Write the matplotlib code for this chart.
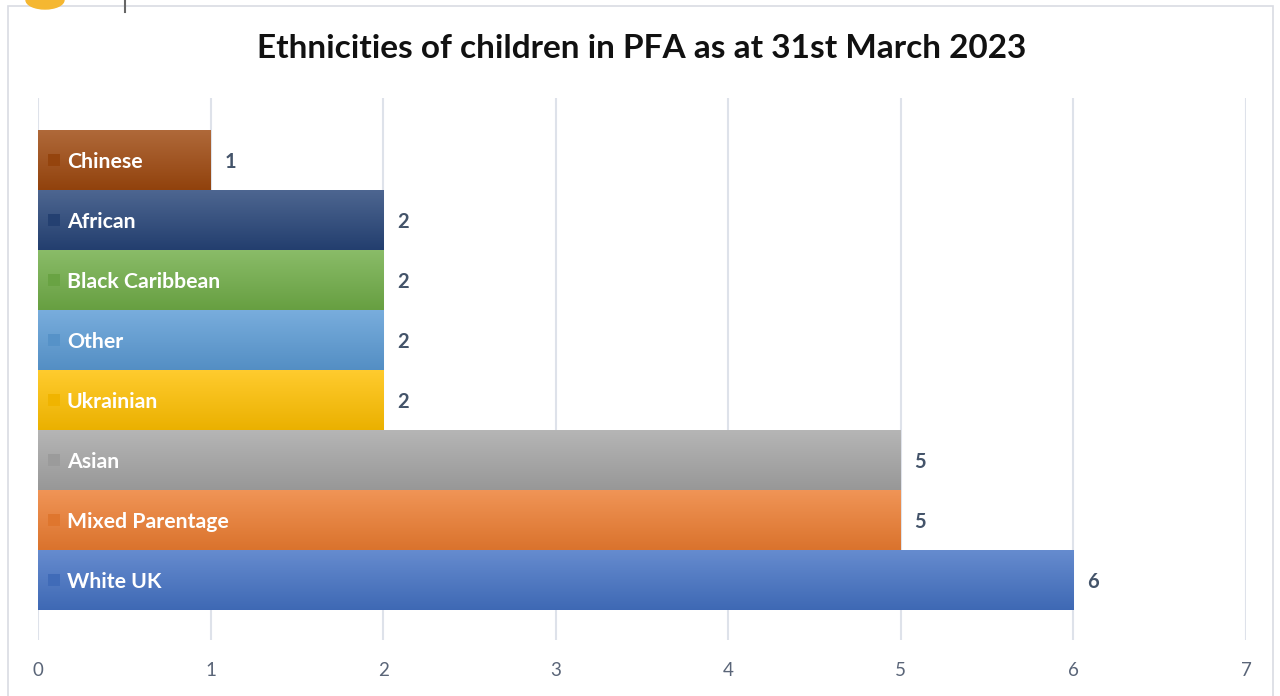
import numpy as np
import matplotlib.pyplot as plt
import matplotlib.colors as mcolors
from matplotlib.patches import Rectangle, Ellipse
from matplotlib.transforms import blended_transform_factory

plt.rcParams['font.family'] = ['Lato', 'DejaVu Sans']

categories = ['White UK', 'Mixed Parentage', 'Asian', 'Ukrainian',
              'Other', 'Black Caribbean', 'African', 'Chinese']
values = [6, 5, 5, 2, 2, 2, 2, 1]
colors = ['#4472C4', '#ED7D31', '#A5A5A5', '#FFC000',
          '#5B9BD5', '#70AD47', '#264478', '#9E480E']
xticks = [0, 1, 2, 3, 4, 5, 6, 7]

TEXT = '#44546A'


def shade(c, f):
    rgb = np.array(mcolors.to_rgb(c))
    if f >= 0:
        return rgb + (1 - rgb) * f
    return rgb * (1 + f)


fig = plt.figure(figsize=(12.8, 6.96), dpi=100)
fig.patches.append(Rectangle((8 / 1280, -0.05), 1265 / 1280, 1.05 - 6 / 696,
                             transform=fig.transFigure, fill=False,
                             edgecolor='#D9DCE3', lw=1.2))
# bits of the page header peeking in above the chart
fig.patches.append(Ellipse((45 / 1280, 1.0), 38 / 1280, 18 / 696,
                           transform=fig.transFigure, color='#F5B731'))
fig.lines.append(plt.Line2D([125 / 1280, 125 / 1280], [1.0, 684 / 696],
                            transform=fig.transFigure, color='#666666', lw=1.5))

ax = fig.add_axes([38 / 1280, 56 / 696, 1208 / 1280, 542 / 696])
y = np.arange(len(categories))
bars = ax.barh(y, values, height=1.0, color=colors, zorder=2)

# vertical gradient on each bar: lighter at the top, darker at the bottom
for b, c in zip(bars, colors):
    top, bot = shade(c, 0.18), shade(c, -0.08)
    grad = np.linspace(0, 1, 64)[:, None, None]
    img = top * (1 - grad) + bot * grad
    x0, y0, w, h = b.get_x(), b.get_y(), b.get_width(), b.get_height()
    ax.imshow(img, extent=[x0, x0 + w, y0, y0 + h], aspect='auto',
              origin='upper', zorder=3, interpolation='bilinear')

ax.set_xlim(0, 7)
ax.set_ylim(-1.0, len(categories) - 0.5 + 32 / 60)
ax.set_xticks(xticks)
ax.set_xticklabels([str(t) for t in xticks])
ax.set_yticks([])
ax.grid(axis='x', color='#DEE2EA', lw=1.5, zorder=0)
for s in ax.spines.values():
    s.set_visible(False)
ax.tick_params(axis='x', length=0, pad=16, labelsize=13.5, labelcolor='#5A6578')

tr = blended_transform_factory(ax.transAxes, ax.transData)
for yi, cat, v, c in zip(y, categories, values, colors):
    ax.scatter([16 / 1208], [yi], marker='s', s=75, color=shade(c, -0.06),
               transform=tr, zorder=4, linewidths=0)
    ax.text(29 / 1208, yi - 0.03, cat, transform=tr, color='white', fontsize=15.3,
            fontweight='bold', va='center', ha='left', zorder=5)
    ax.text(v + 0.08, yi - 0.03, str(v), color=TEXT, fontsize=14.5,
            fontweight='bold', va='center', ha='left', zorder=5)

fig.text(642 / 1280, 1 - 48 / 696, 'Ethnicities of children in PFA as at 31st March 2023',
         ha='center', va='center', fontsize=24, fontweight='bold', color='#111111')

fig.savefig('out.png', dpi=100)
